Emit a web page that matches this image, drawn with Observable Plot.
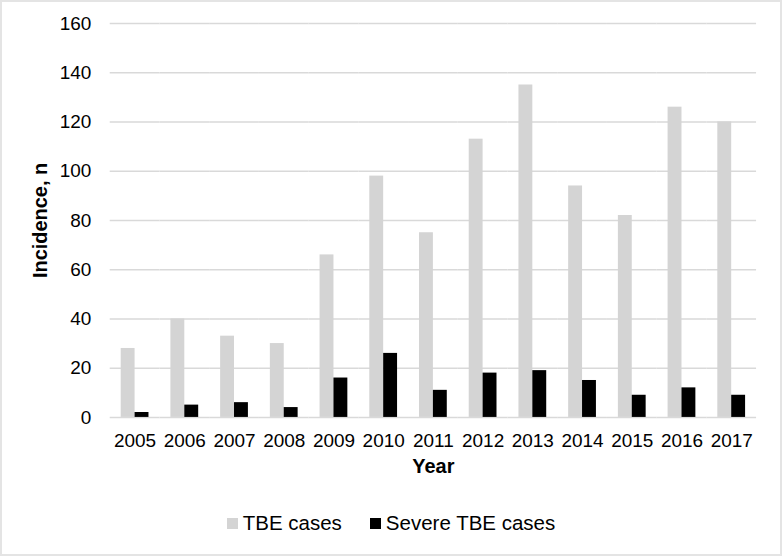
<!DOCTYPE html>
<html>
<head>
<meta charset="utf-8">
<script src="https://cdn.jsdelivr.net/npm/d3@7"></script>
<script src="https://cdn.jsdelivr.net/npm/@observablehq/plot@0.6"></script>
<style>
  html, body { margin: 0; padding: 0; background: #fff; }
  #frame { width: 782px; height: 556px; box-sizing: border-box; border: 2px solid #e4e4e4; position: relative; overflow: hidden; font-family: "Liberation Sans", Arial, sans-serif; }
  #chart { position: absolute; left: -2px; top: -2px; }
  #legend { position: absolute; left: 0; right: 0; top: 509px; display: flex; justify-content: center; align-items: center; font-size: 20.5px; color: #000; }
  .item { display: flex; align-items: center; margin: 0 14px; }
  .sw { width: 11px; height: 11px; margin-right: 5px; }
  svg [aria-label="y-axis label"], svg [aria-label="fx-axis label"] { font-weight: bold; font-size: 20px; }
</style>
</head>
<body>
<div id="frame">
  <div id="chart"></div>
  <div id="legend"></div>
</div>
<script>
const years = ["2005","2006","2007","2008","2009","2010","2011","2012","2013","2014","2015","2016","2017"];
const tbeCases = [28, 40, 33, 30, 66, 98, 75, 113, 135, 94, 82, 126, 120];
const severeCases = [2, 5, 6, 4, 16, 26, 11, 18, 19, 15, 9, 12, 9];
const seriesNames = ["TBE cases", "Severe TBE cases"];
const seriesColors = ["#d4d4d4", "#000000"];
const yTicks = [0, 20, 40, 60, 80, 100, 120, 140, 160];

const rows = [];
years.forEach((y, i) => {
  rows.push({year: y, series: seriesNames[0], value: tbeCases[i]});
  rows.push({year: y, series: seriesNames[1], value: severeCases[i]});
});

const chart = Plot.plot({
  width: 782,
  height: 480,
  marginTop: 23,
  marginBottom: 62,
  marginLeft: 110,
  marginRight: 24,
  style: { fontSize: "19px", fontFamily: "'Liberation Sans', Arial, sans-serif", color: "#000", background: "transparent" },
  fx: { domain: years, padding: 0, round: false, label: "Year", labelAnchor: "center", tickSize: 0, tickPadding: 16, labelOffset: 56, labelArrow: "none" },
  x: { domain: seriesNames, axis: null, paddingInner: 0, paddingOuter: 0.79, round: false },
  y: { domain: [0, 160], ticks: yTicks, tickSize: 0, tickPadding: 19, label: "Incidence, n", labelAnchor: "center", labelOffset: 78, labelArrow: "none" },
  color: { domain: seriesNames, range: seriesColors },
  marks: [
    Plot.gridY(yTicks, { stroke: "#d9d9d9", strokeOpacity: 1, strokeWidth: 1.5 }),
    Plot.barY(rows, { fx: "year", x: "series", y: "value", fill: "series", inset: 0 })
  ]
});
document.getElementById("chart").appendChild(chart);

const legend = document.getElementById("legend");
seriesNames.forEach((name, i) => {
  const item = document.createElement("div");
  item.className = "item";
  const sw = document.createElement("div");
  sw.className = "sw";
  sw.style.background = seriesColors[i];
  const t = document.createElement("span");
  t.textContent = name;
  item.appendChild(sw);
  item.appendChild(t);
  legend.appendChild(item);
});
</script>
</body>
</html>
